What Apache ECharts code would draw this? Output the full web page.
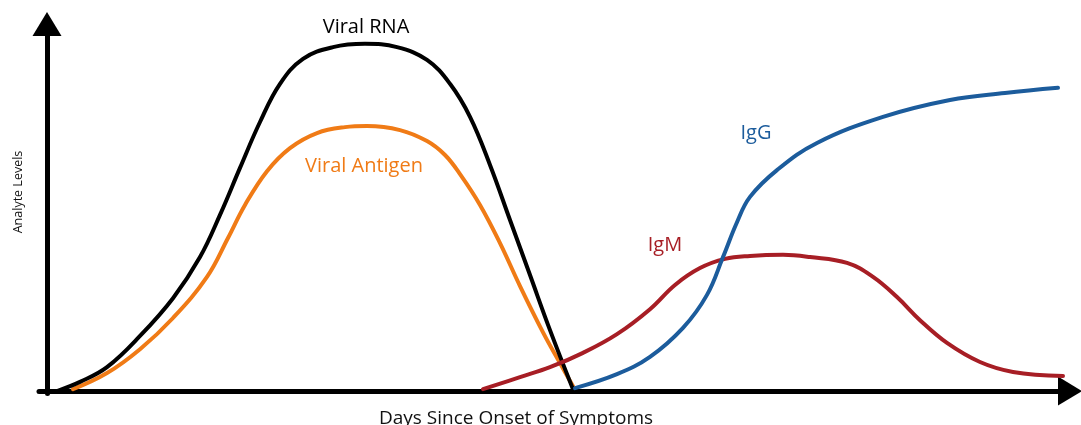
<!DOCTYPE html>
<html>
<head>
<meta charset="utf-8">
<script src="https://cdn.jsdelivr.net/npm/echarts@6/dist/echarts.min.js"></script>
<style>
html,body{margin:0;padding:0;background:#fff;}
#chart{width:1081px;height:425px;}
</style>
</head>
<body>
<div id="chart"></div>
<script>
// x: time since onset (arbitrary units), y: analyte level (arbitrary units, 0-100)
const viralRNA = [
  [1.0,0.0],[3.3,2.5],[6.0,6.5],[9.3,15.0],[12.6,25.3],[15.3,36.5],[17.3,48.0],[19.3,60.8],
  [21.3,73.3],[23.3,83.7],[25.6,90.5],[28.6,93.7],[31.8,94.6],[35.0,93.7],[38.0,90.2],
  [40.3,83.7],[42.3,74.7],[44.3,61.6],[46.3,46.6],[48.3,31.6],[50.3,16.6],[52.6,0.5]
];
const viralAntigen = [
  [2.6,0.5],[6.0,4.9],[9.3,11.4],[12.6,19.9],[16.0,31.1],[18.1,41.7],[19.8,50.7],[22.0,59.9],
  [24.3,66.2],[27.0,70.3],[29.8,71.9],[32.0,72.2],[35.3,71.1],[38.0,68.1],[39.8,64.3],
  [41.3,59.1],[43.3,50.7],[45.3,40.3],[47.3,28.6],[49.6,16.0],[51.3,7.6],[52.7,0.8]
];
const igM = [
  [43.6,0.5],[47.3,3.8],[50.3,6.5],[53.6,10.4],[57.0,15.5],[60.3,22.3],[62.8,28.9],[65.3,33.5],
  [67.8,36.0],[70.3,36.8],[73.6,37.1],[76.3,36.5],[80.0,34.9],[82.6,31.1],[85.0,25.6],
  [87.3,19.3],[90.0,13.1],[93.3,7.9],[96.6,5.2],[101.6,4.1]
];
const igG = [
  [52.8,0.8],[57.0,4.6],[60.3,9.3],[63.6,17.2],[66.0,26.2],[67.6,36.5],[69.0,46.0],[70.3,52.9],
  [73.0,60.2],[77.0,67.6],[83.6,74.7],[90.3,79.3],[95.8,81.2],[101.1,82.6]
];
const seriesNames = ['Viral Antigen','Viral RNA','IgM','IgG'];
const labelCoords = {
  'Viral RNA': [31.9, 99.2],
  'Viral Antigen': [31.7, 61.3],
  'IgM': [61.8, 39.8],
  'IgG': [70.9, 70.3]
};
const xAxisTitle = 'Days Since Onset of Symptoms';
const yAxisTitle = 'Analyte Levels';

const colors = {
  'Viral RNA': '#000000',
  'Viral Antigen': '#f07b16',
  'IgM': '#a71e25',
  'IgG': '#1c5c9c'
};
const dataMap = {
  'Viral RNA': viralRNA,
  'Viral Antigen': viralAntigen,
  'IgM': igM,
  'IgG': igG
};
const FONT = '"Open Sans", "Noto Sans", sans-serif';

const chart = echarts.init(document.getElementById('chart'), null, {renderer: 'canvas'});

const series = seriesNames.map(name => ({
  name: name,
  type: 'line',
  data: dataMap[name],
  smooth: 0.4,
  showSymbol: false,
  symbol: 'none',
  silent: true,
  animation: false,
  lineStyle: {color: colors[name], width: 4, cap: 'round', join: 'round'},
  markPoint: {
    symbol: 'rect',
    symbolSize: 1,
    silent: true,
    animation: false,
    itemStyle: {color: 'rgba(0,0,0,0)'},
    label: {
      show: true,
      position: 'inside',
      formatter: name,
      color: colors[name],
      fontSize: 20,
      fontFamily: FONT
    },
    data: [{coord: labelCoords[name]}]
  }
}));

const axisCommon = {
  type: 'value',
  axisTick: {show: false},
  axisLabel: {show: false},
  splitLine: {show: false},
  axisLine: {
    show: true,
    onZero: true,
    symbol: ['none', 'triangle'],
    symbolSize: [29, 24],
    lineStyle: {color: '#000', width: 5}
  }
};

chart.setOption({
  animation: false,
  backgroundColor: '#ffffff',
  grid: {left: 39, right: 11, top: 24, bottom: 31.4, containLabel: false},
  xAxis: Object.assign({}, axisCommon, {min: -0.8, max: 102.3}),
  yAxis: Object.assign({}, axisCommon, {min: -0.7, max: 100}),
  series: series,
  graphic: [
    {
      type: 'text',
      x: 516, y: 419,
      style: {
        text: xAxisTitle,
        fontSize: 19,
        fontFamily: FONT,
        fill: '#111',
        align: 'center',
        verticalAlign: 'middle'
      }
    },
    {
      type: 'text',
      x: 18, y: 192,
      rotation: Math.PI / 2,
      style: {
        text: yAxisTitle,
        fontSize: 12.5,
        fontFamily: FONT,
        fill: '#111',
        align: 'center',
        verticalAlign: 'middle'
      }
    }
  ]
});
</script>
</body>
</html>
